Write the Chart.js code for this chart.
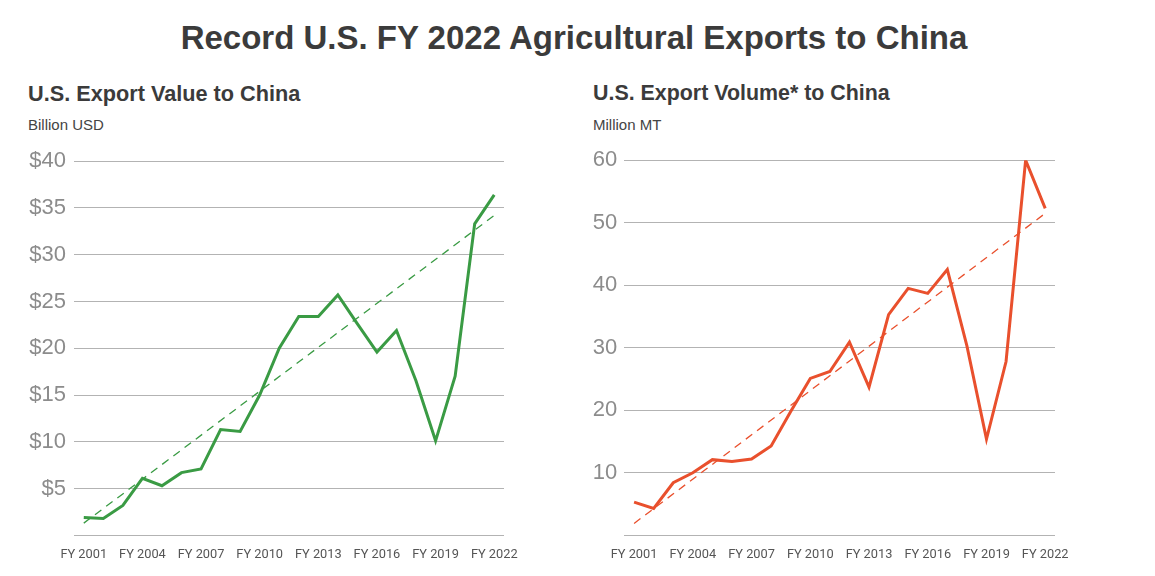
<!DOCTYPE html>
<html>
<head>
<meta charset="utf-8">
<script src="https://cdn.jsdelivr.net/npm/chart.js@4/dist/chart.umd.min.js"></script>
<style>
  body { margin: 0; background: #fff; font-family: "Liberation Sans", Arial, sans-serif; }
  #page { position: relative; width: 1155px; height: 576px; overflow: hidden; }
  .txt { position: absolute; white-space: nowrap; line-height: 1; }
  #title { left: 0; width: 1148px; text-align: center; top: 20.5px; font-size: 33px; font-weight: bold; color: #3b3b3b; }
  .sub { top: 82.5px; font-size: 21.7px; font-weight: bold; color: #3b3b3b; }
  .unit { top: 117px; font-size: 15px; color: #444; }
  .box { position: absolute; top: 140px; height: 436px; }
</style>
</head>
<body>
<div id="page">
  <div id="title" class="txt">Record U.S. FY 2022 Agricultural Exports to China</div>
  <div class="txt sub" style="left:28px">U.S. Export Value to China</div>
  <div class="txt unit" style="left:28px">Billion USD</div>
  <div class="txt sub" style="left:593px; font-size:21.4px">U.S. Export Volume* to China</div>
  <div class="txt unit" style="left:593px">Million MT</div>
  <div class="box" style="left:0; width:577px"><canvas id="valueChart"></canvas></div>
  <div class="box" style="left:577px; width:578px"><canvas id="volumeChart"></canvas></div>
</div>
<script>
const years = ['FY 2001', 'FY 2002', 'FY 2003', 'FY 2004', 'FY 2005', 'FY 2006', 'FY 2007', 'FY 2008',
  'FY 2009', 'FY 2010', 'FY 2011', 'FY 2012', 'FY 2013', 'FY 2014', 'FY 2015', 'FY 2016',
  'FY 2017', 'FY 2018', 'FY 2019', 'FY 2020', 'FY 2021', 'FY 2022'];

// billion USD
const exportValue = [1.9, 1.8, 3.2, 6.1, 5.3, 6.7, 7.1, 11.3, 11.1, 15.0, 20.0, 23.4,
  23.4, 25.7, 22.6, 19.6, 21.9, 16.5, 10.1, 17.0, 33.3, 36.4];
// trend line, read at its two ends only
const valueTrend = [1.3, null, null, null, null, null, null, null, null, null, null, null,
  null, null, null, null, null, null, null, null, null, 34.2];

// million MT
const exportVolume = [5.3, 4.3, 8.4, 10.0, 12.1, 11.8, 12.2, 14.3, 19.8, 25.1, 26.2, 30.9,
  23.7, 35.3, 39.5, 38.7, 42.5, 30.3, 15.4, 27.8, 60.0, 52.3];
const volumeTrend = [1.9, null, null, null, null, null, null, null, null, null, null, null,
  null, null, null, null, null, null, null, null, null, 51.5];

const valueTicks = { max: 40, step: 5, prefix: '$' };
const volumeTicks = { max: 60, step: 10, prefix: '' };

const GREEN = '#3a9b44';
const ORANGE = '#e9502d';

function makeChart(id, values, trend, color, tickInfo, axisWidth, padRight, tickPad) {
  const ctx = document.getElementById(id).getContext('2d');
  return new Chart(ctx, {
    type: 'line',
    data: {
      labels: years,
      datasets: [
        {
          data: trend,
          borderColor: color,
          borderWidth: 1.3,
          borderDash: [8, 6],
          pointRadius: 0,
          spanGaps: true,
          fill: false
        },
        {
          data: values,
          borderColor: color,
          borderWidth: 3,
          pointRadius: 0,
          tension: 0,
          fill: false
        }
      ]
    },
    options: {
      responsive: true,
      maintainAspectRatio: false,
      animation: false,
      layout: { padding: { top: 18.7, right: padRight, bottom: 0, left: 0 } },
      plugins: { legend: { display: false }, tooltip: { enabled: false } },
      scales: {
        x: {
          offset: true,
          grid: { display: false, drawTicks: false },
          border: { display: false },
          ticks: {
            autoSkip: false,
            maxRotation: 0,
            padding: 11.5,
            color: '#555',
            font: { family: 'Roboto, "Liberation Sans", Arial', size: 12.8 },
            callback: function (v, i) { return i % 3 === 0 ? years[i] : ''; }
          },
          afterFit: function (scale) { scale.height = 40.7; }
        },
        y: {
          min: 0,
          max: tickInfo.max,
          grid: { color: '#b3b3b3', lineWidth: 1, drawTicks: false },
          border: { display: false },
          ticks: {
            stepSize: tickInfo.step,
            padding: tickPad,
            color: '#8c8c8c',
            font: { family: '"Liberation Sans", Arial', size: 22 },
            callback: function (v) { return v === 0 ? '' : tickInfo.prefix + v; }
          },
          afterFit: function (scale) { scale.width = axisWidth; }
        }
      }
    }
  });
}

makeChart('valueChart', exportValue, valueTrend, GREEN, valueTicks, 74, 73, 8);
makeChart('volumeChart', exportVolume, volumeTrend, ORANGE, volumeTicks, 47.3, 100, 7);
</script>
</body>
</html>
